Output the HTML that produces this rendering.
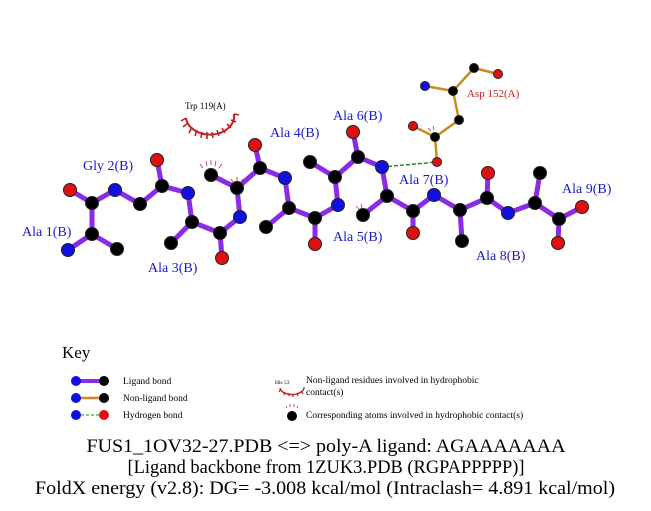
<!DOCTYPE html>
<html><head><meta charset="utf-8"><style>
html,body{margin:0;padding:0;background:#fff;}
svg{display:block;}
text{font-family:"Liberation Serif",serif;}
</style></head><body>
<svg width="651" height="511" viewBox="0 0 651 511" xmlns="http://www.w3.org/2000/svg">
<rect width="651" height="511" fill="#fff"/>
<g stroke="#cc8a22" stroke-width="2.5" fill="none">
<polyline points="425,86 453,91 474,68 498,74"/>
<polyline points="453,91 459,120 435,137 413,126"/>
<line x1="435" y1="137" x2="437" y2="162"/>
</g>
<line x1="382" y1="167" x2="437" y2="162" stroke="#228822" stroke-width="1.5" stroke-dasharray="4,2"/>
<g stroke="#8a2be8" stroke-width="5" fill="none" stroke-linecap="round">
<polyline points="68,250 92,234 92,203 115,190 140,204 162,186 188,193 192,222 220,233 240,217 237,188 260,168 285,178 289,208 315,218 338,205 335,177 358,157 382,167 387,196 413,211 434,195 460,210 487,198 508,213 535,203 559,219 582,207"/>
<line x1="92" y1="234" x2="117" y2="249"/>
<line x1="70" y1="190" x2="92" y2="203"/>
<line x1="162" y1="186" x2="157" y2="160"/>
<line x1="192" y1="222" x2="171" y2="243"/>
<line x1="220" y1="233" x2="222" y2="258"/>
<line x1="237" y1="188" x2="211" y2="175"/>
<line x1="260" y1="168" x2="255" y2="145"/>
<line x1="289" y1="208" x2="266" y2="227"/>
<line x1="315" y1="218" x2="315" y2="244"/>
<line x1="335" y1="177" x2="310" y2="162"/>
<line x1="358" y1="157" x2="353" y2="132"/>
<line x1="387" y1="196" x2="363" y2="215"/>
<line x1="413" y1="211" x2="413" y2="233"/>
<line x1="460" y1="210" x2="462" y2="241"/>
<line x1="487" y1="198" x2="488" y2="173"/>
<line x1="535" y1="203" x2="540" y2="173"/>
<line x1="559" y1="219" x2="558" y2="243"/>
</g>
<g stroke="#c03030" stroke-width="0.8">
<path d="M203,168 l-3,-4 M207,166 l-1,-5 M211,165 l0,-5 M215,166 l1,-5 M219,168 l3,-4"/>
<path d="M233,182 l-2,-3 M237,181 l0,-4 M241,182 l2,-3"/>
<path d="M359,209 l-3,-3 M362,208 l-1,-4"/>
<path d="M431,131 l-3,-3 M434,130 l-1,-4"/>
</g>
<g stroke="#222" stroke-width="1">
<g fill="#000">
<circle cx="92" cy="234" r="6.5"/><circle cx="92" cy="203" r="6.5"/><circle cx="117" cy="249" r="6.5"/>
<circle cx="140" cy="204" r="6.5"/><circle cx="162" cy="186" r="6.5"/><circle cx="192" cy="222" r="6.5"/>
<circle cx="171" cy="243" r="6.5"/><circle cx="220" cy="233" r="6.5"/><circle cx="237" cy="188" r="6.5"/>
<circle cx="211" cy="175" r="6.5"/><circle cx="260" cy="168" r="6.5"/><circle cx="289" cy="208" r="6.5"/>
<circle cx="266" cy="227" r="6.5"/><circle cx="315" cy="218" r="6.5"/><circle cx="335" cy="177" r="6.5"/>
<circle cx="310" cy="162" r="6.5"/><circle cx="358" cy="157" r="6.5"/><circle cx="387" cy="196" r="6.5"/>
<circle cx="363" cy="215" r="6.5"/><circle cx="413" cy="211" r="6.5"/><circle cx="460" cy="210" r="6.5"/>
<circle cx="462" cy="241" r="6.5"/><circle cx="487" cy="198" r="6.5"/><circle cx="535" cy="203" r="6.5"/>
<circle cx="540" cy="173" r="6.5"/><circle cx="559" cy="219" r="6.5"/>
</g>
<g fill="#1010e0">
<circle cx="68" cy="250" r="6.5"/><circle cx="115" cy="190" r="6.5"/><circle cx="188" cy="193" r="6.5"/>
<circle cx="240" cy="217" r="6.5"/><circle cx="285" cy="178" r="6.5"/><circle cx="338" cy="205" r="6.5"/>
<circle cx="382" cy="167" r="6.5"/><circle cx="434" cy="195" r="6.5"/><circle cx="508" cy="213" r="6.5"/>
</g>
<g fill="#e01010">
<circle cx="70" cy="190" r="6.5"/><circle cx="157" cy="160" r="6.5"/><circle cx="222" cy="258" r="6.5"/>
<circle cx="255" cy="145" r="6.5"/><circle cx="315" cy="244" r="6.5"/><circle cx="353" cy="132" r="6.5"/>
<circle cx="413" cy="233" r="6.5"/><circle cx="488" cy="173" r="6.5"/><circle cx="582" cy="207" r="6.5"/>
<circle cx="558" cy="243" r="6.5"/>
</g>
<circle cx="425" cy="86" r="4.5" fill="#1010e0"/>
<circle cx="453" cy="91" r="4.5" fill="#000"/><circle cx="474" cy="68" r="4.5" fill="#000"/>
<circle cx="459" cy="120" r="4.5" fill="#000"/><circle cx="435" cy="137" r="4.5" fill="#000"/>
<circle cx="498" cy="74" r="4.5" fill="#e01010"/><circle cx="413" cy="126" r="4.5" fill="#e01010"/>
<circle cx="437" cy="162" r="4.5" fill="#e01010"/>
</g>
<text x="185" y="109" font-size="9">Trp 119(A)</text>
<path d="M186,118 A22,17 0 0 0 234,114" fill="none" stroke="#c02020" stroke-width="2"/>
<g stroke="#c02020" stroke-width="1.6">
<path d="M186,118 l-5,3 M188,123 l-5,4 M192,127 l-3,6 M197,130 l-2,6 M202,132 l-1,6 M207,132 l0,7 M212,132 l1,6 M217,130 l2,6 M222,128 l3,5 M227,124 l4,4 M231,120 l5,2 M234,114 l5,1"/>
</g>
<g fill="#1a1acc" font-size="14">
<text x="22" y="236">Ala 1(B)</text>
<text x="83" y="170">Gly 2(B)</text>
<text x="148" y="272">Ala 3(B)</text>
<text x="270" y="137">Ala 4(B)</text>
<text x="333" y="241">Ala 5(B)</text>
<text x="333" y="120">Ala 6(B)</text>
<text x="399" y="184">Ala 7(B)</text>
<text x="476" y="260">Ala 8(B)</text>
<text x="562" y="193">Ala 9(B)</text>
</g>
<text x="467" y="97" font-size="11" fill="#c02020">Asp 152(A)</text>
<text x="62" y="358" font-size="17">Key</text>
<line x1="76" y1="381" x2="104" y2="381" stroke="#8a2be8" stroke-width="4"/>
<circle cx="76" cy="381" r="5" fill="#1010e0"/><circle cx="104" cy="381" r="5" fill="#000"/>
<line x1="76" y1="398" x2="104" y2="398" stroke="#cc8a22" stroke-width="2.5"/>
<circle cx="76" cy="398" r="5" fill="#1010e0"/><circle cx="104" cy="398" r="5" fill="#000"/>
<line x1="76" y1="415" x2="104" y2="415" stroke="#228822" stroke-width="1" stroke-dasharray="3,2"/>
<circle cx="76" cy="415" r="5" fill="#1010e0"/><circle cx="104" cy="415" r="5" fill="#e01010"/>
<g font-size="9.5">
<text x="123" y="384">Ligand bond</text>
<text x="123" y="401">Non-ligand bond</text>
<text x="123" y="418">Hydrogen bond</text>
<text x="306" y="383">Non-ligand residues involved in hydrophobic</text>
<text x="306" y="395">contact(s)</text>
<text x="306" y="418">Corresponding atoms involved in hydrophobic contact(s)</text>
</g>
<text x="275" y="384" font-size="5.5">His 53</text>
<path d="M280,388 A12,7 0 0 0 304,387" fill="none" stroke="#c02020" stroke-width="1.4"/>
<path d="M281,389 l-2,3 M285,392 l-1,3 M289,393 l0,3 M293,394 l0,3 M297,393 l1,3 M301,391 l2,3" stroke="#c02020" stroke-width="1.2"/>
<circle cx="292" cy="416" r="5" fill="#000"/>
<path d="M287,408 l-1,-2 M290,407 l0,-3 M294,407 l0,-3 M297,408 l1,-2" stroke="#c02020" stroke-width="0.8"/>
<g font-size="19" text-anchor="middle">
<text x="326" y="452" textLength="479" lengthAdjust="spacingAndGlyphs">FUS1_1OV32-27.PDB &lt;=&gt; poly-A ligand: AGAAAAAAA</text>
<text x="326" y="473" textLength="397" lengthAdjust="spacingAndGlyphs">[Ligand backbone from 1ZUK3.PDB (RGPAPPPPP)]</text>
<text x="325" y="494" textLength="580" lengthAdjust="spacingAndGlyphs">FoldX energy (v2.8): DG= -3.008 kcal/mol (Intraclash= 4.891 kcal/mol)</text>
</g>
</svg>
</body></html>
